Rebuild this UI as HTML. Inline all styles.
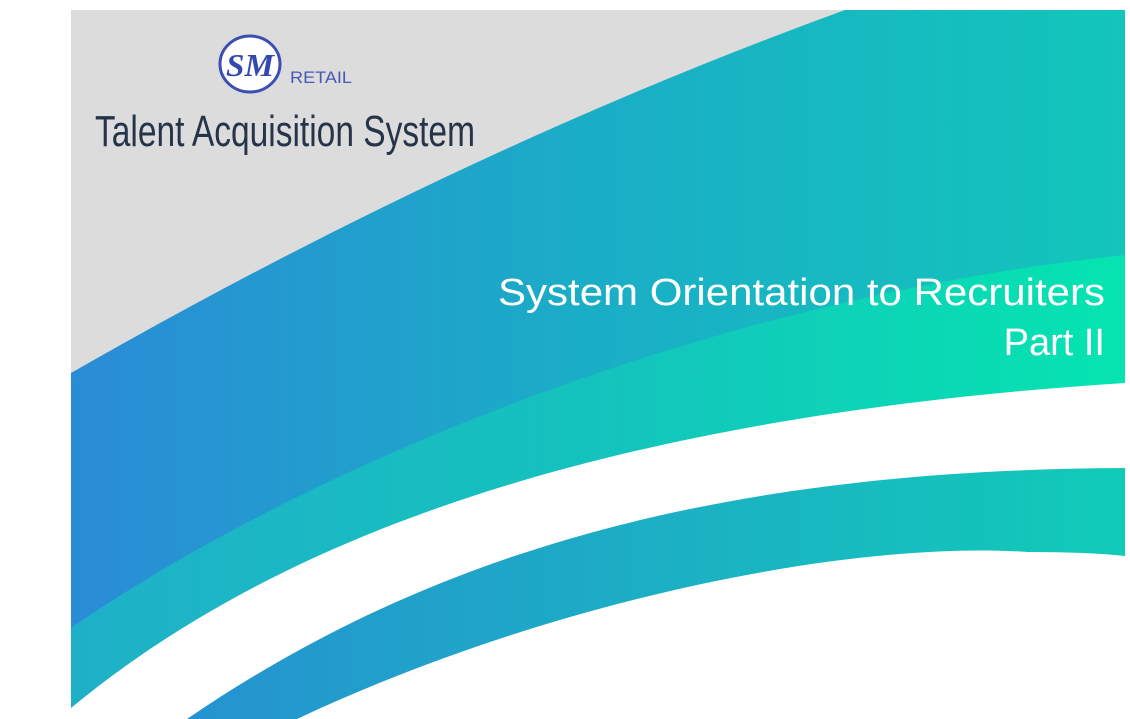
<!DOCTYPE html>
<html><head><meta charset="utf-8"><style>
html,body{margin:0;padding:0;background:#fff;width:1130px;height:719px;overflow:hidden}
svg{display:block}
</style></head><body>
<svg width="1130" height="719" viewBox="0 0 1130 719" xmlns="http://www.w3.org/2000/svg">
<defs>
<linearGradient id="gBlue" x1="0" y1="0" x2="1" y2="0">
<stop offset="0" stop-color="#2a8cd6"/><stop offset="0.5" stop-color="#1aaec6"/><stop offset="1" stop-color="#12c6bb"/>
</linearGradient>
<linearGradient id="gGreen" x1="0" y1="0" x2="1" y2="0">
<stop offset="0" stop-color="#1fb0c8"/><stop offset="0.5" stop-color="#14c3bd"/><stop offset="1" stop-color="#05e4b0"/>
</linearGradient>
<linearGradient id="gStripe" x1="0" y1="0" x2="1" y2="0">
<stop offset="0" stop-color="#2593d0"/><stop offset="0.5" stop-color="#1cafc4"/><stop offset="1" stop-color="#10cbb8"/>
</linearGradient>
<clipPath id="slideClip"><rect x="71" y="10" width="1054" height="709"/></clipPath>
</defs>
<g clip-path="url(#slideClip)">
<rect x="71" y="10" width="1054" height="709" fill="#dcdcdc"/>
<path d="M71,373 Q460,150 845,10 L1125,10 L1125,719 L71,719 Z" fill="url(#gBlue)"/>
<path d="M71,628 C300,470 700,300 1125,255 L1125,719 L71,719 Z" fill="url(#gGreen)"/>
<path d="M71,708 C250,560 550,420 1125,383 L1125,719 L71,719 Z" fill="#ffffff"/>
<path d="M187,719 C420,560 700,470 1125,468 L1125,719 Z" fill="url(#gStripe)"/>
<path d="M297,719 C550,600 850,540 1028,552 Q1090,552 1125,556 L1125,719 Z" fill="#ffffff"/>
</g>
<g>
<ellipse cx="250" cy="64" rx="30" ry="28" fill="#fff" stroke="#3b4fb2" stroke-width="3"/>
<text x="250" y="76" text-anchor="middle" font-family="Liberation Serif, serif" font-weight="bold" font-style="italic" font-size="32" fill="#3548b0" textLength="48" lengthAdjust="spacingAndGlyphs">SM</text>
<text x="290" y="83" font-family="Liberation Sans, sans-serif" font-size="17" fill="#4559b5" textLength="62" lengthAdjust="spacingAndGlyphs">RETAIL</text>
</g>
<text x="95" y="146" font-family="Liberation Sans Narrow, Liberation Sans, sans-serif" font-size="44" fill="#26344a" textLength="380" lengthAdjust="spacingAndGlyphs">Talent Acquisition System</text>
<text x="1105" y="305" text-anchor="end" font-family="Liberation Sans, sans-serif" font-size="38" fill="#ffffff" textLength="607" lengthAdjust="spacingAndGlyphs">System Orientation to Recruiters</text>
<text x="1105" y="355" text-anchor="end" font-family="Liberation Sans, sans-serif" font-size="38" fill="#ffffff">Part II</text>
</svg>
</body></html>
